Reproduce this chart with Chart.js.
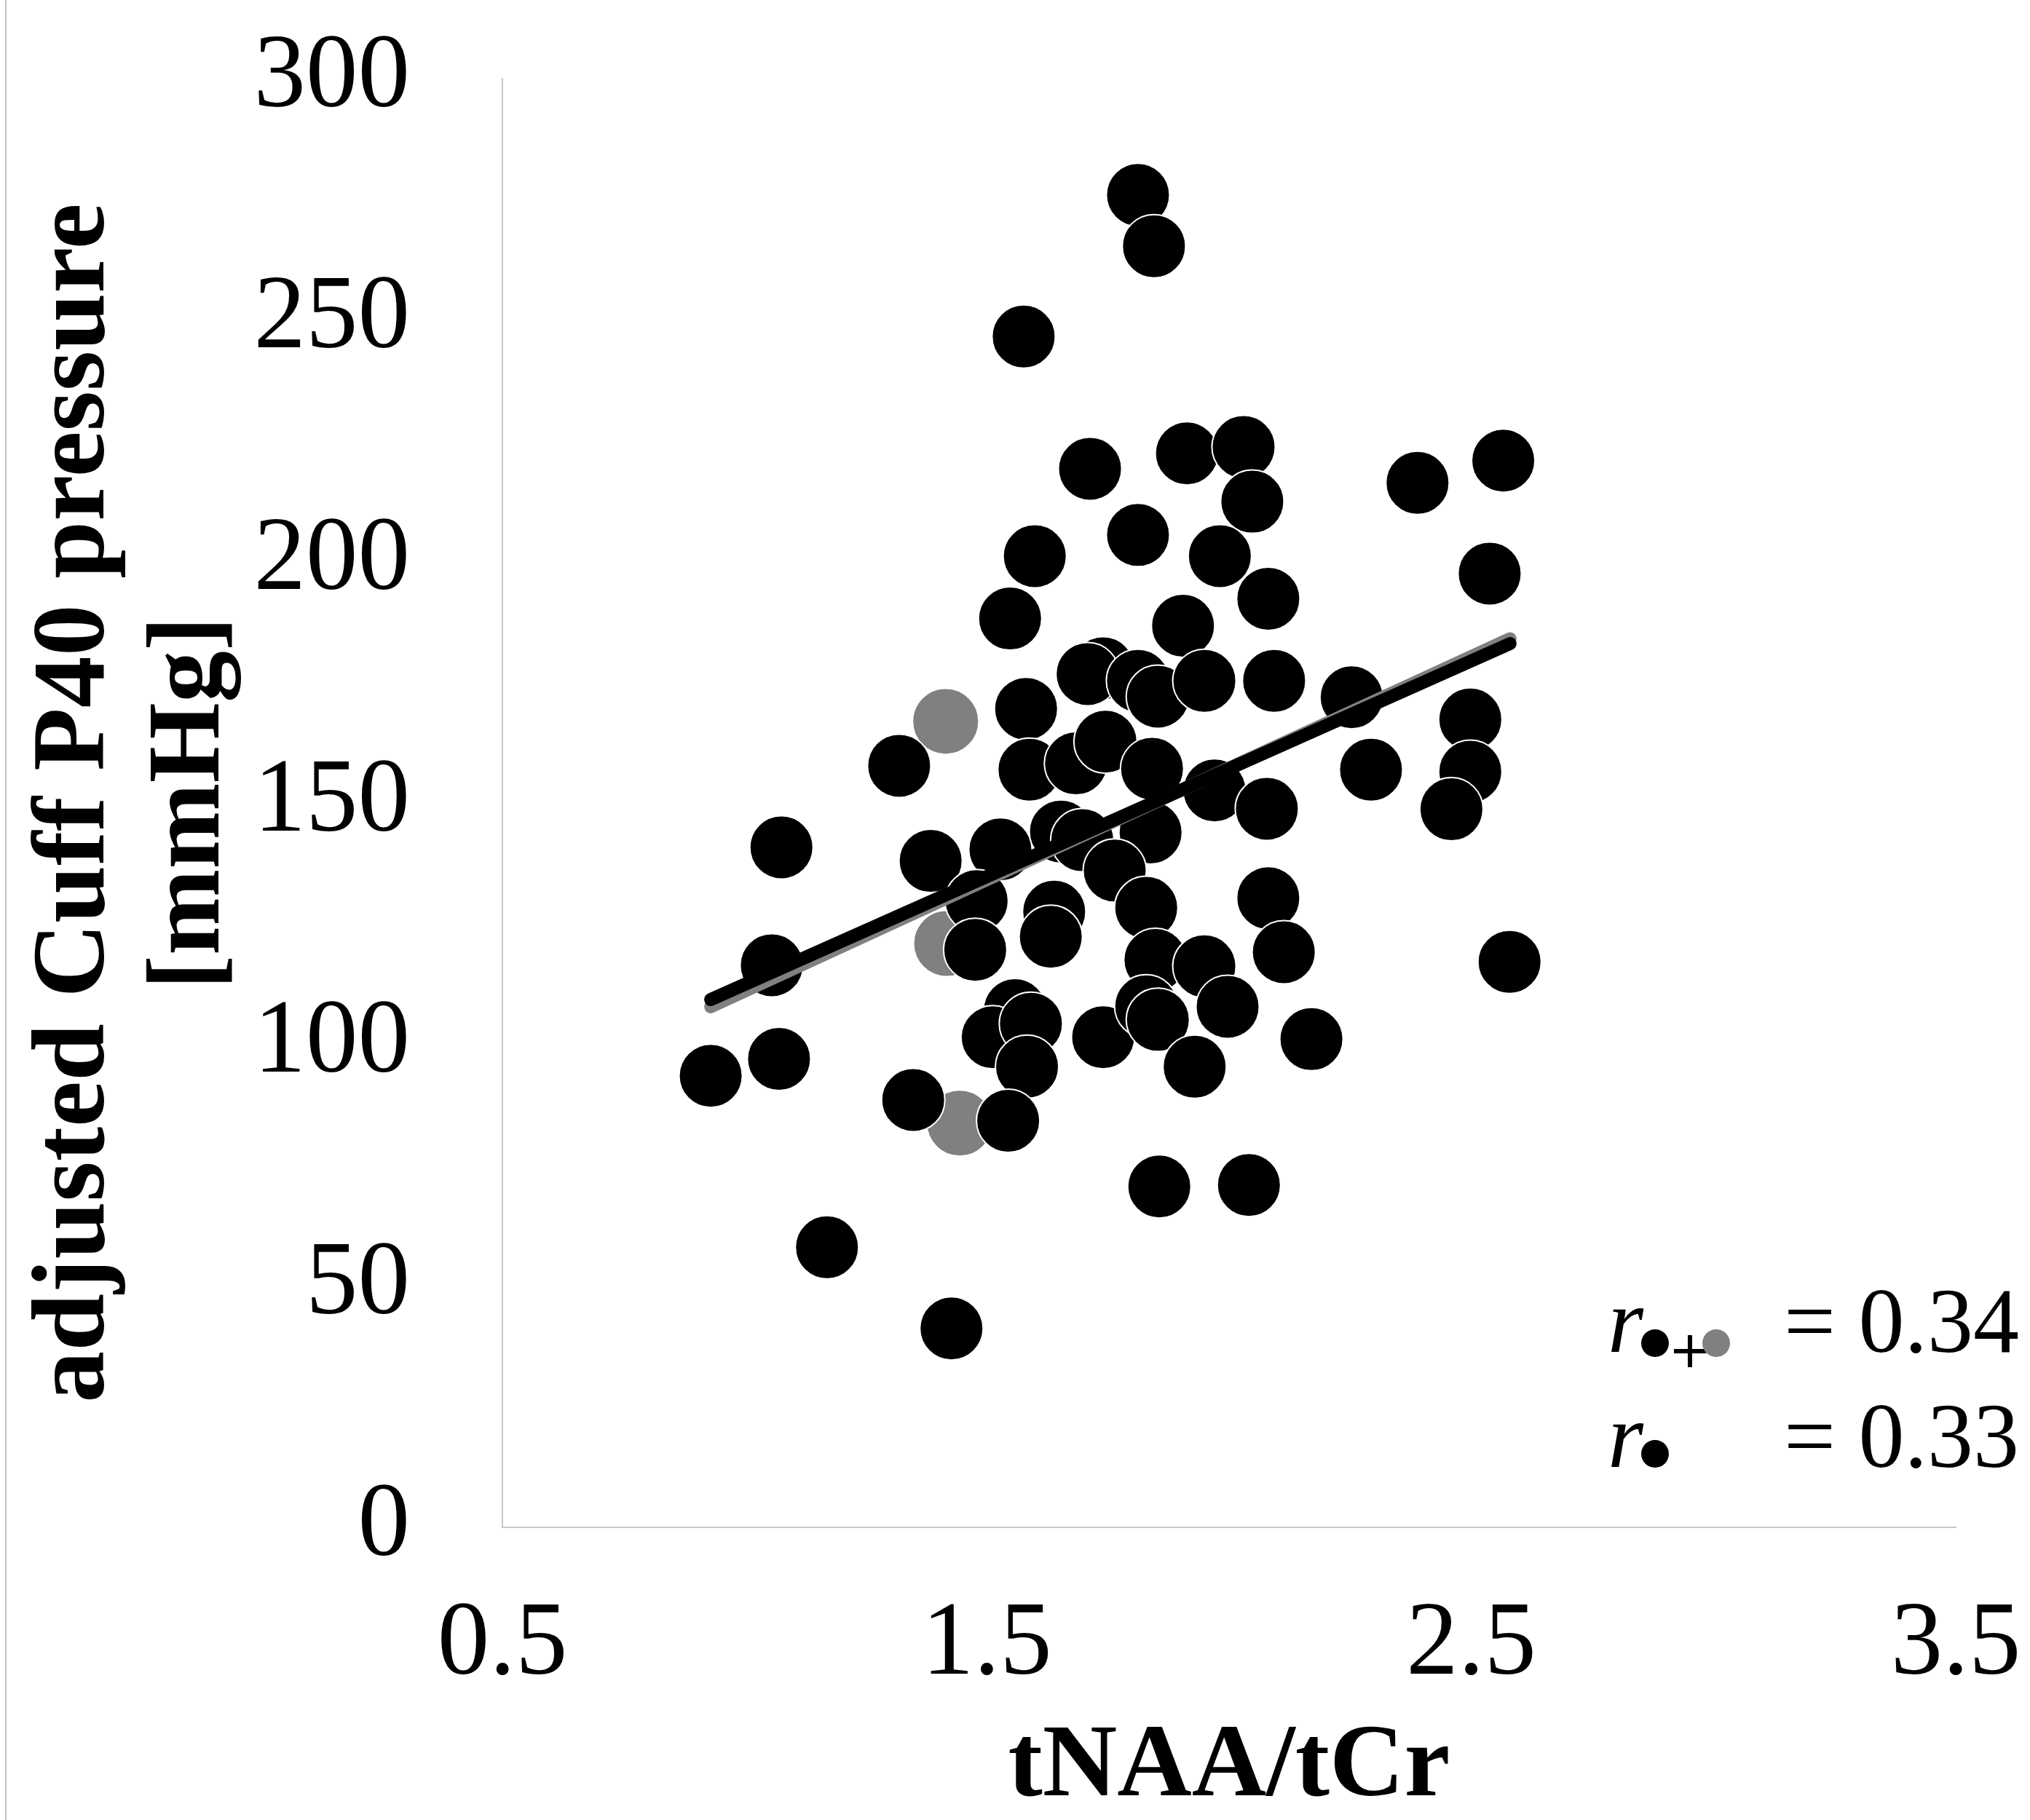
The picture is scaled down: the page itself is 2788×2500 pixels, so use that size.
<!DOCTYPE html>
<html>
<head>
<meta charset="utf-8">
<title>tNAA/tCr vs adjusted Cuff P40 pressure</title>
<script src="https://cdn.jsdelivr.net/npm/chart.js@4.4.1/dist/chart.umd.min.js"></script>
<style>
  html, body { margin: 0; padding: 0; background: #fff; }
  #wrap { position: relative; width: 2788px; height: 2500px; }
</style>
</head>
<body>
<div id="wrap"><canvas id="chart" width="2788" height="2500"></canvas></div>
<script>
// black points (r● group)
const blackX = [1.812, 1.845, 1.576, 1.713, 1.913, 2.030, 2.048, 2.389, 2.566, 1.599,
  1.812, 1.981, 2.538, 1.548, 1.905, 2.081, 1.740, 1.708, 1.812, 1.853,
  1.949, 2.093, 2.253, 2.498, 1.581, 1.319, 1.588, 1.684, 1.745, 1.841,
  2.293, 2.498, 2.459, 1.970, 2.078, 1.076, 1.384, 1.528, 1.653, 1.697,
  1.838, 1.764, 1.479, 1.476, 1.639, 1.632, 1.829, 1.848, 1.949, 2.081,
  2.113, 2.579, 1.056, 0.930, 1.071, 1.558, 1.512, 1.591, 1.583, 1.740,
  1.829, 1.853, 1.997, 1.929, 2.170, 1.348, 1.544, 1.856, 2.041, 1.170,
  1.427];
const blackY = [275.9, 265.3, 246.6, 219.2, 222.4, 223.7, 212.4, 216.3, 220.9, 201.1,
  205.5, 201.1, 197.5, 188.2, 186.7, 192.3, 177.9, 176.7, 175.3, 172.0,
  175.3, 175.3, 171.9, 167.3, 169.5, 157.7, 156.9, 158.2, 162.7, 157.1,
  156.9, 156.5, 148.7, 152.6, 148.8, 140.8, 138.0, 140.4, 144.1, 142.3,
  143.9, 136.0, 129.7, 119.6, 127.5, 122.3, 128.3, 117.5, 116.2, 130.3,
  119.1, 117.1, 116.4, 93.5, 97.0, 107.1, 101.5, 104.3, 95.4, 101.5,
  107.9, 105.1, 107.8, 95.4, 101.1, 88.5, 84.2, 70.6, 70.9, 58.0,
  41.2];

// gray points (added in r●+●)
const grayX = [1.415, 1.417, 1.444];
const grayY = [166.9, 120.9, 83.7];

// trend lines
const fitBlackX = [0.930, 2.580];
const fitBlackY = [109.3, 183.0];
const fitAllX = [0.930, 2.580];
const fitAllY = [107.8, 184.0];

const xTicks = [0.5, 1.5, 2.5, 3.5];
const xTickLabels = ["0.5", "1.5", "2.5", "3.5"];
const yTicks = [0, 50, 100, 150, 200, 250, 300];
const yTickLabels = ["0", "50", "100", "150", "200", "250", "300"];

const rValues = ["= 0.34", "= 0.33"];

const FONT = "'Liberation Serif', 'Times New Roman', serif";

const toPoints = (xs, ys) => xs.map((x, i) => ({ x: x, y: ys[i] }));

// label overhang would otherwise shrink the plot area
const noPad = (s) => {
  s.paddingLeft = 0;
  s.paddingRight = 0;
  s.paddingTop = 0;
  s.paddingBottom = 0;
};

// r legend in the lower right + thin frame line at the left edge
const extras = {
  id: "extras",
  afterDraw(chart) {
    const ctx = chart.ctx;
    ctx.save();
    ctx.strokeStyle = "#c4c4c4";
    ctx.lineWidth = 2;
    ctx.beginPath();
    ctx.moveTo(8, 0);
    ctx.lineTo(8, 2500);
    ctx.stroke();

    ctx.fillStyle = "#000";
    ctx.textBaseline = "alphabetic";
    ctx.textAlign = "left";
    const rows = [1857, 2015];
    rows.forEach((base, i) => {
      ctx.font = "italic 126px " + FONT;
      ctx.fillStyle = "#000";
      ctx.fillText("r", 2208, base);
      ctx.beginPath();
      ctx.arc(2273, base - 12 - (i ? 6 : 0), 19, 0, Math.PI * 2);
      ctx.fill();
      if (i === 0) {
        ctx.strokeStyle = "#000";
        ctx.lineWidth = 6;
        ctx.beginPath();
        ctx.moveTo(2299, base - 1);
        ctx.lineTo(2343, base - 1);
        ctx.moveTo(2321, base - 23);
        ctx.lineTo(2321, base + 21);
        ctx.stroke();
        ctx.fillStyle = "#808080";
        ctx.beginPath();
        ctx.arc(2357, base - 12, 19, 0, Math.PI * 2);
        ctx.fill();
        ctx.fillStyle = "#000";
      }
      ctx.font = "126px " + FONT;
      ctx.fillText(rValues[i], 2450, base);
    });
    ctx.restore();
  }
};

new Chart(document.getElementById("chart"), {
  type: "scatter",
  data: {
    datasets: [
      {
        type: "line",
        label: "fit r●",
        data: toPoints(fitBlackX, fitBlackY),
        borderColor: "#000",
        borderWidth: 18,
        borderCapStyle: "round",
        pointRadius: 0,
        order: 0
      },
      {
        type: "line",
        label: "fit r●+●",
        data: toPoints(fitAllX, fitAllY),
        borderColor: "#808080",
        borderWidth: 18,
        borderCapStyle: "round",
        pointRadius: 0,
        order: 1
      },
      {
        label: "●",
        data: toPoints(blackX, blackY),
        backgroundColor: "#000",
        pointBorderColor: "#fff",
        pointBorderWidth: 2,
        pointRadius: 43.5,
        order: 2
      },
      {
        label: "●(+)",
        data: toPoints(grayX, grayY),
        backgroundColor: "#808080",
        pointBorderColor: "#808080",
        pointBorderWidth: 2,
        pointRadius: 43.5,
        order: 3
      }
    ]
  },
  options: {
    responsive: false,
    animation: false,
    devicePixelRatio: 1,
    layout: { padding: { left: 0, right: 102, top: 108, bottom: 0 }, autoPadding: false },
    plugins: { legend: { display: false }, tooltip: { enabled: false } },
    scales: {
      x: {
        type: "linear",
        min: 0.5,
        max: 3.5,
        afterBuildTicks: (s) => { s.ticks = xTicks.map((v) => ({ value: v })); },
        afterFit: (s) => { s.height = 402; noPad(s); },
        grid: { display: false, drawTicks: false },
        border: { display: true, color: "#c8c8c8", width: 2 },
        ticks: {
          padding: 78,
          color: "#000",
          font: { family: FONT, size: 143 },
          callback: (v, i) => xTickLabels[i]
        },
        title: {
          display: true,
          text: "tNAA/tCr",
          color: "#000",
          font: { family: FONT, size: 142, weight: "bold", lineHeight: 1 },
          padding: { top: 0, bottom: 0 }
        }
      },
      y: {
        type: "linear",
        min: 0,
        max: 300,
        afterBuildTicks: (s) => { s.ticks = yTicks.map((v) => ({ value: v })); },
        afterFit: (s) => { s.width = 690; noPad(s); },
        grid: { display: false, drawTicks: false },
        border: { display: true, color: "#c8c8c8", width: 2 },
        ticks: {
          padding: 127,
          color: "#000",
          font: { family: FONT, size: 143 },
          callback: (v, i) => yTickLabels[i]
        },
        title: {
          display: true,
          text: ["adjusted Cuff P40 pressure", "[mmHg]"],
          color: "#000",
          font: { family: FONT, size: 142, weight: "bold", lineHeight: 1.11 },
          padding: { top: 27, bottom: 0 }
        }
      }
    }
  },
  plugins: [extras]
});
</script>
</body>
</html>
